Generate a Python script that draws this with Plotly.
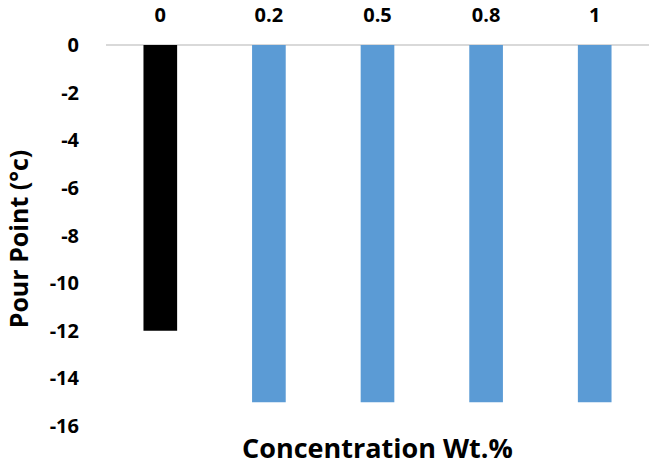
import plotly.graph_objects as go

categories = ["0", "0.2", "0.5", "0.8", "1"]
pour_point = [-12, -15, -15, -15, -15]
bar_colors = ["#000000", "#5B9BD5", "#5B9BD5", "#5B9BD5", "#5B9BD5"]
y_ticks = [0, -2, -4, -6, -8, -10, -12, -14, -16]

FONT = "Open Sans"

fig = go.Figure(go.Bar(
    x=categories, y=pour_point, marker=dict(color=bar_colors, line=dict(width=0)),
    width=0.31,
))

fig.update_layout(
    width=654, height=465,
    margin=dict(l=106, r=5, t=45, b=39),
    paper_bgcolor="white", plot_bgcolor="white",
    showlegend=False,
    font=dict(family=FONT, color="black"),
    xaxis=dict(
        side="top", type="category", showgrid=False, showline=False, zeroline=False,
        ticks="", tickfont=dict(family=FONT, size=20, color="black", weight="bold"),
        ticklabelstandoff=18, automargin=False,
    ),
    yaxis=dict(
        range=[-16, 0], tickvals=y_ticks, ticktext=[str(v) for v in y_ticks],
        showgrid=False, zeroline=True, zerolinecolor="#D9D9D9", zerolinewidth=2,
        showline=False, ticks="", automargin=False,
        tickfont=dict(family=FONT, size=20, color="black", weight="bold"),
        ticklabelstandoff=26,
    ),
    annotations=[
        dict(
            text="Concentration Wt.%", xref="paper", yref="paper", x=0.5, y=0,
            yshift=-21, xanchor="center", yanchor="middle", showarrow=False,
            font=dict(family=FONT, size=27, color="black", weight="bold"),
        ),
        dict(
            text="Pour Point (°c)", xref="paper", yref="paper", x=0, y=0.49,
            xshift=-88, xanchor="center", yanchor="middle", textangle=-90, showarrow=False,
            font=dict(family=FONT, size=25, color="black", weight="bold"),
        ),
    ],
)

fig.write_html("out.html", post_script="document.body.style.margin='0';",
               config={"displayModeBar": False})
